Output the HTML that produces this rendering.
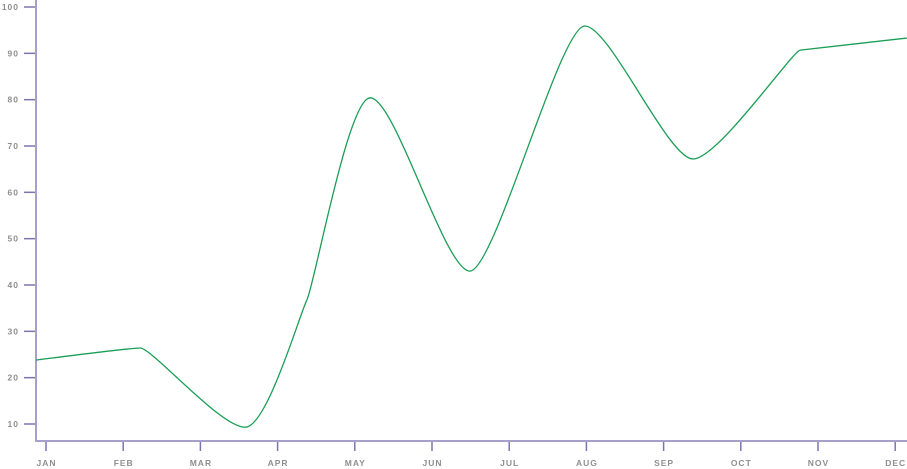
<!DOCTYPE html>
<html><head><meta charset="utf-8">
<style>
html,body{margin:0;padding:0;background:#fff;}
svg{display:block;}
text{font-family:"Liberation Sans",sans-serif;font-size:8.5px;font-weight:bold;fill:#8f8f8f;letter-spacing:1px;}
</style></head>
<body>
<svg id="chart" width="907" height="469"></svg>
<script>
const monthLabels=["JAN","FEB","MAR","APR","MAY","JUN","JUL","AUG","SEP","OCT","NOV","DEC"];
const yTicks=[10,20,30,40,50,60,70,80,90,100];
const pointMonths=[-0.13,1.22,2.58,3.38,4.20,5.49,6.98,8.38,9.77,11.15];
const pointValues=[23.8,26.4,9.3,36.8,80.4,43.0,95.9,67.2,90.7,93.3];

const NS="http://www.w3.org/2000/svg";
const svg=document.getElementById('chart');
function xS(m){return 46+77.2*m;}
function yS(v){return 424-(v-10)*(417/90);}
function mk(tag,attrs){const e=document.createElementNS(NS,tag);for(const k in attrs)e.setAttribute(k,attrs[k]);svg.appendChild(e);return e;}

const ya=mk('line',{x1:36,y1:0,x2:36,y2:442,stroke:'#a99fcb','stroke-width':2});


const xa=mk('line',{x1:35,y1:441,x2:907,y2:441,stroke:'#a99fcb','stroke-width':2});



yTicks.forEach(v=>{
  const y=yS(v);
  const t=mk('line',{x1:24,y1:y,x2:35,y2:y,stroke:'#7e72b0','stroke-width':1.5});
  
  
  const l=mk('text',{x:19,y:y+3,'text-anchor':'end'});
  l.textContent=v;
  
  
});
monthLabels.forEach((m,i)=>{
  const x=xS(i);
  const t=mk('line',{x1:x,y1:442,x2:x,y2:451,stroke:'#7e72b0','stroke-width':1.5});
  
  
  const l=mk('text',{x:x+0.5,y:466,'text-anchor':'middle'});
  l.textContent=m;
  
  
});

const px=pointMonths.map(xS), py=pointValues.map(yS);
const n=px.length, d=[], s=[];
for(let i=0;i<n-1;i++){d.push(px[i+1]-px[i]);s.push((py[i+1]-py[i])/d[i]);}
const t=new Array(n), hr=new Array(n);
for(let i=1;i<n-1;i++){
  const ext=s[i-1]*s[i]<=0;
  if(ext)t[i]=0;
  else t[i]=Math.abs(s[i-1])<Math.abs(s[i])?s[i-1]:s[i];
  const steep=Math.max(Math.abs(s[i-1]),Math.abs(s[i]));
  hr[i]=ext?(steep>1?25:12):8;
}
t[0]=s[0];t[n-1]=s[n-2];hr[0]=10;hr[n-1]=10;
let path='M'+px[0]+','+py[0];
for(let i=0;i<n-1;i++){
  const h0=Math.min(0.35*d[i],hr[i]), h1=Math.min(0.35*d[i],hr[i+1]);
  path+=' C'+(px[i]+h0)+','+(py[i]+h0*t[i])+' '+(px[i+1]-h1)+','+(py[i+1]-h1*t[i+1])+' '+px[i+1]+','+py[i+1];
}
const line=mk('path',{d:path,fill:'none',stroke:'#1a9e55','stroke-width':1.3});


</script>
</body></html>
